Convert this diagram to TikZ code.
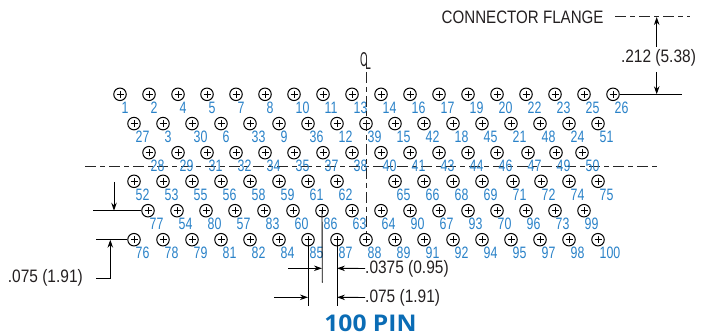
\documentclass[tikz,border=0pt]{standalone}
\usepackage{fontspec}
\usetikzlibrary{arrows.meta}
\setmainfont{Liberation Sans}
\newfontfamily\narrowfont[FakeStretch=0.75]{Liberation Sans}
\newfontfamily\dimfont[FakeStretch=0.86]{Liberation Sans}
\newfontfamily\flangefont[FakeStretch=0.84]{Liberation Sans}
\newfontfamily\clfont[FakeStretch=0.5]{Liberation Sans}
\newfontfamily\headfont[FakeStretch=1.07]{Open Sans}
\definecolor{pinblue}{HTML}{2A82C8}
\definecolor{headblue}{HTML}{0A6CB5}
\definecolor{inkgrey}{HTML}{231F20}
\tikzset{
  x=1pt,y=-1pt,
  pinmark/.style={circle,draw=black,line width=1pt,minimum size=12.5pt,inner sep=0pt,
    path picture={\draw[line width=0.7pt] (path picture bounding box.center) ++(0,-3.5pt) -- ++(0,7pt);
                  \draw[line width=0.7pt] (path picture bounding box.center) ++(-3.5pt,0) -- ++(7pt,0);}},
  pinlabel/.style={inner sep=0pt,anchor=west,text=pinblue,font=\narrowfont\fontsize{16.5}{16.5}\selectfont},
  dimtext/.style={inner sep=0pt,text=inkgrey,font=\dimfont\fontsize{18}{18}\selectfont},
  dimline/.style={line width=0.9pt,draw=black},
  dimarrow/.style={line width=0.9pt,draw=black,-{Stealth[length=8pt,width=5.5pt]}},
  axisline/.style={line width=1pt,draw=black!85,dash pattern=on 11pt off 4pt on 5pt off 4pt},
}
\newcommand{\pinrow}[2]{%
  \foreach \px/\lx/\nm in {#2} {
    \node[pinmark] (p\nm) at (\px,#1) {};
    \node[pinlabel] (t\nm) at (\lx+1.5,#1+13.5) {\nm};
  }}
\begin{document}
\begin{tikzpicture}
\useasboundingbox (0,0) rectangle (707,336);
\coordinate (hl) at (85,166.7);
\coordinate (hr) at (658,166.7);
\coordinate (vt) at (366,72);
\draw[axisline] (hl) -- (hr);
\pinrow{94.3}{120/120/1,149/149/2,178/178/4,207/207/5,236/236/7,265/265/8,294/294/10,323/323/11,352/352/13,381/381/14,410/410/16,439/439/17,468/468/19,497/497/20,526/526/22,555/555/23,584/584/25,613/613/26}
\pinrow{123.6}{134/134/27,163/163/3,192/192/30,221/221/6,250/250/33,279/279/9,308/308/36,337/337/12,366/366/39,395/395/15,424/424/42,453/453/18,482/482/45,511/511/21,540/540/48,569/569/24,598/598/51}
\pinrow{152.7}{149/149/28,178/178/29,207/207/31,236/236/32,265/265/34,294/294/35,323/323/37,352/352/38,381/381/40,410/410/41,439/439/43,468/468/44,497/497/46,528/526/47,556/555/49,582/584/50}
\pinrow{181.3}{134/134/52,163/163/53,192/192/55,221/221/56,250/250/58,279/279/59,308/308/61,337/337/62,395/395/65,424/424/66,453/453/68,482/482/69,513/511/71,541/540/72,569/569/74,598/598/75}
\pinrow{210.7}{148/148/77,177/177/54,206/206/80,235/235/57,264/264/83,293/293/60,322/322/86,352/351/63,381/380/64,410/409/90,439/438/67,468/467/93,497/496/70,526/525/96,555/554/73,584/583/99}
\pinrow{239.7}{134/134/76,163/163/78,192/192/79,221/221/81,250/250/82,279/279/84,308/308/85,337/337/87,366/366/88,395/395/89,424/424/91,453/453/92,482/482/94,511/511/95,540/540/97,569/569/98,598/598/100}
\draw[axisline] (vt) -- (p88.north);
% centre-line symbol
\node[inner sep=0pt,font=\clfont\fontsize{20}{20}\selectfont,text=inkgrey] (cc) at (363.7,59.5) {C};
\node[inner sep=0pt,font=\clfont\fontsize{20}{20}\selectfont,text=inkgrey] (cl) at (368.2,63) {L};
% flange dimension
\node[inner sep=0pt,text=inkgrey,font=\flangefont\fontsize{18}{18}\selectfont,anchor=west] (flange) at (441.5,17) {CONNECTOR FLANGE};
\coordinate (fl) at (615,17);
\coordinate (fr) at (690,17);
\draw[axisline] (fl) -- (fr);
\coordinate (ft) at (656.7,17);
\coordinate (fb) at (656.7,94.3);
\node[dimtext] (d212) at (658.5,58) {.212 (5.38)};
\draw[dimarrow] (656.7,47) -- (ft);
\draw[dimarrow] (656.7,72) -- (fb);
\coordinate (fe) at (681.7,94.3);
\draw[dimline] (p26.east) -- (fe);
% left dimension
\coordinate (a1) at (93,210.7);
\draw[dimline] (a1) -- (p77.west);
\coordinate (a2) at (96,239.7);
\draw[dimline] (a2) -- (p76.west);
\coordinate (a3) at (114,182);
\coordinate (a4) at (114,210.7);
\draw[dimarrow] (a3) -- (a4);
\node[dimtext,anchor=east] (d075a) at (83,277.5) {.075 (1.91)};
\coordinate (b1) at (96,278);
\coordinate (b2) at (110.3,278);
\coordinate (b3) at (110.3,239.7);
\draw[dimline,-{Stealth[length=8pt,width=5.5pt]}] (b1) -- (b2) -- (b3);
% bottom dimension
\coordinate (e85) at (308,305.7);
\coordinate (e87) at (337,305.7);
\coordinate (e86) at (322.3,282.7);
\draw[dimline] (p85.center) -- (e85);
\draw[dimline] (p87.center) -- (e87);
\draw[dimline] (p86.center) -- (e86);
\node[dimtext,anchor=west] (d0375) at (365,268.5) {.0375 (0.95)};
\node[dimtext,anchor=west] (d075b) at (365,297.5) {.075 (1.91)};
\coordinate (c1) at (288,268.3);
\coordinate (c2) at (322,268.3);
\coordinate (c3) at (337,268.3);
\draw[dimarrow] (c1) -- (c2);
\draw[dimarrow] (d0375.west) -- (c3);
\coordinate (c4) at (274,297.3);
\coordinate (c5) at (308,297.3);
\coordinate (c6) at (337,297.3);
\draw[dimarrow] (c4) -- (c5);
\draw[dimarrow] (d075b.west) -- (c6);
\node[inner sep=0pt,text=headblue,font=\headfont\bfseries\fontsize{23}{23}\selectfont] (title) at (370.5,323.5) {100 PIN};
\end{tikzpicture}
\end{document}
